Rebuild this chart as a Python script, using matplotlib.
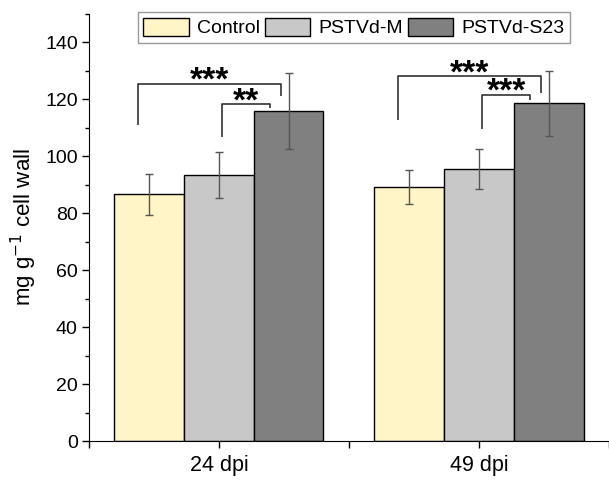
import numpy as np
import matplotlib
matplotlib.use("Agg")
import matplotlib.pyplot as plt
from matplotlib.ticker import MultipleLocator

plt.rcParams['font.family'] = ['Liberation Sans', 'DejaVu Sans']

groups = ['24 dpi', '49 dpi']
series = ['Control', 'PSTVd-M', 'PSTVd-S23']
means = {
    'Control':   [86.6, 89.1],
    'PSTVd-M':   [93.4, 95.6],
    'PSTVd-S23': [115.8, 118.6],
}
errs = {
    'Control':   [7.3, 6.0],
    'PSTVd-M':   [8.2, 7.0],
    'PSTVd-S23': [13.3, 11.3],
}
colors = ['#FFF5C6', '#C8C8C8', '#808080']

# significance brackets per group: (label, top, left bottom, right bottom)
sig_big = [('***', 125.5, 110.9, 121.1), ('***', 128.1, 112.6, 122.2)]
sig_small = [('**', 118.4, 106.8, 117.1), ('***', 121.6, 109.5, 119.6)]

fig = plt.figure(figsize=(6.09, 4.8), dpi=100)
ax = fig.add_axes([0.146, 0.081, 0.854, 0.89])

x = np.array([1.0, 2.0])
w = 0.268
for i, s in enumerate(series):
    ax.bar(x + (i - 1) * w, means[s], w, color=colors[i], edgecolor='black',
           linewidth=1.0, label=s, zorder=2)
    ax.errorbar(x + (i - 1) * w, means[s], yerr=errs[s], fmt='none',
                ecolor='#555555', elinewidth=1.0, capsize=2.8, capthick=1.0, zorder=3)

def bracket(x0, x1, top, yl, yr, txt):
    ax.plot([x0, x0, x1, x1], [yl, top, top, yr], color='#333333', lw=1.2,
            zorder=4, solid_capstyle='butt')
    ax.annotate(txt, ((x0 + x1) / 2, top), xytext=(0, -4.5),
                textcoords='offset points', ha='center', va='baseline',
                fontsize=24, fontweight='bold', color='black')

for g in range(2):
    lab, top, yl, yr = sig_big[g]
    bracket(x[g] - 0.31, x[g] + 0.237, top, yl, yr, lab)
    lab, top, yl, yr = sig_small[g]
    bracket(x[g] + 0.012, x[g] + 0.197, top, yl, yr, lab)

ax.set_xlim(0.5, 2.47)
ax.set_ylim(0, 150)
ax.set_xticks([0.5, 1, 1.5, 2, 2.5])
ax.set_xticklabels(['', groups[0], '', groups[1], ''])
ax.yaxis.set_major_locator(MultipleLocator(20))
ax.yaxis.set_minor_locator(MultipleLocator(10))
ax.tick_params(axis='both', direction='out', length=5, width=1)
ax.tick_params(axis='x', labelsize=15.5, pad=5)
ax.tick_params(axis='y', labelsize=14, pad=3)
ax.tick_params(axis='y', which='minor', direction='out', length=3, width=1)
ax.spines['top'].set_visible(False)
ax.spines['right'].set_visible(False)
ax.set_ylabel('mg g$^{-1}$ cell wall', fontsize=16, labelpad=4)

leg = fig.legend(loc='upper center', bbox_to_anchor=(0.581, 0.975), ncol=3,
                 fontsize=14, frameon=True, fancybox=False, handlelength=2.35,
                 handleheight=1.03, handletextpad=0.4, columnspacing=0.25,
                 borderpad=0.3, borderaxespad=0)
leg.get_frame().set_edgecolor('#808080')
leg.get_frame().set_linewidth(1.0)

fig.savefig('out.png', dpi=100)
